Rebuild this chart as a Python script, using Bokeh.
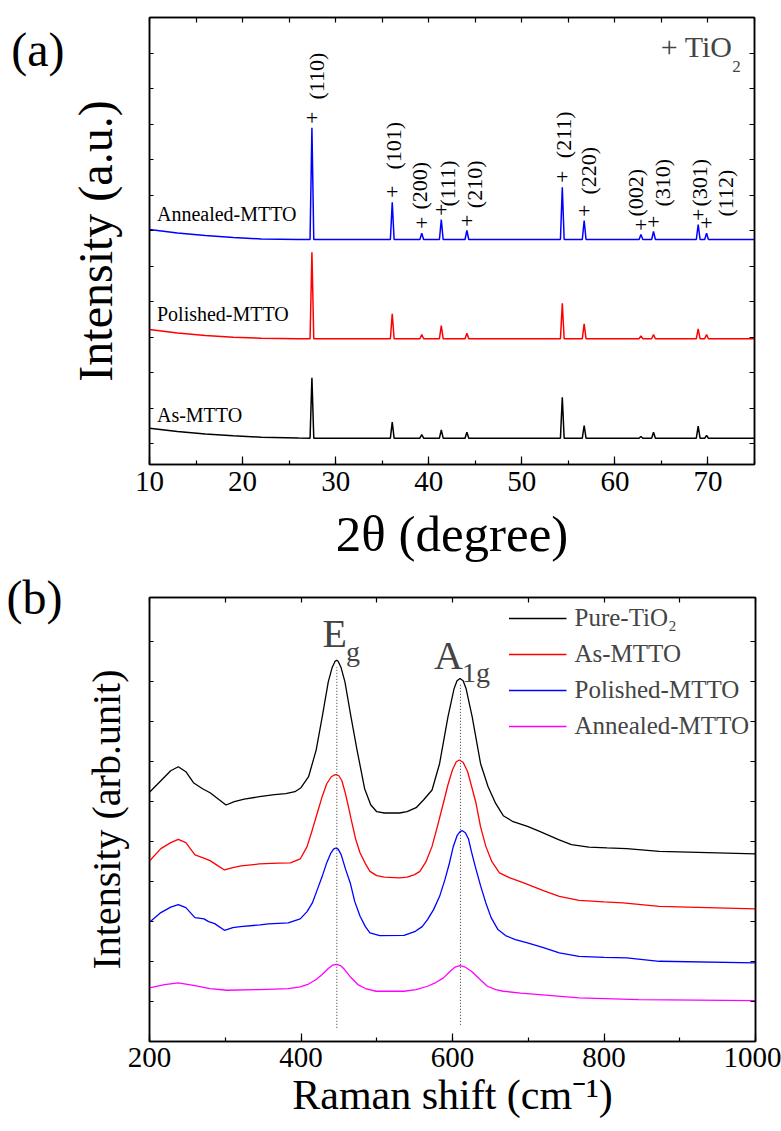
import numpy as np
from bokeh.plotting import figure
from bokeh.models import (Range1d, LinearAxis, FixedTicker, SingleIntervalTicker,
                          CustomJSTickFormatter, Label, ColumnDataSource, Legend, LegendItem)
from bokeh.layouts import column
from bokeh.embed import file_html
from bokeh.resources import INLINE
from bokeh.core.properties import value

FONT = "Liberation Serif"

# ---------------- (a) XRD data ----------------
peak_hkl = ["(110)", "(101)", "(200)", "(111)", "(210)", "(211)", "(220)", "(002)", "(310)", "(301)", "(112)"]
peak_theta = [27.45, 36.08, 39.25, 41.35, 44.1, 54.35, 56.7, 62.8, 64.15, 68.95, 69.85]
base_theta = [10, 13, 16, 19, 22, 26, 75]
annealed_base = [2350, 2315, 2290, 2270, 2255, 2250, 2250]
polished_base = [1350, 1315, 1290, 1272, 1262, 1258, 1258]
as_base = [363, 330, 305, 287, 273, 265, 263]
annealed_peak = [3367, 2623, 2313, 2450, 2340, 2773, 2440, 2300, 2330, 2400, 2313]
polished_peak = [2123, 1507, 1300, 1390, 1313, 1613, 1407, 1287, 1300, 1357, 1300]
as_peak = [867, 423, 300, 347, 323, 673, 390, 280, 323, 383, 290]
hkl_label_x = [27.9, 36.2, 39.0, 42.0, 44.9, 54.5, 57.2, 62.2, 65.1, 69.1, 71.9]
hkl_label_y = [3650, 2950, 2550, 2580, 2563, 3063, 2700, 2480, 2580, 2580, 2480]
xrd_names = ["Annealed-MTTO", "Polished-MTTO", "As-MTTO"]
xrd_colors = ["#0000ff", "#ff0000", "#000000"]
xrd_name_x = [10.8, 10.8, 10.8]
xrd_name_y = [2510, 1510, 493]
xrd_yticks = [210, 565, 920, 1275, 1630, 1985, 2340, 2695, 3050, 3405, 3760, 4115]

# ---------------- (b) Raman data ----------------
pure_x = [200, 215, 228, 238, 248, 258, 270, 280, 292, 301, 312, 325, 345, 365, 380, 392, 400, 410,
          420, 428, 436, 441, 445, 447, 449, 453, 458, 466, 474, 484, 492, 500, 510, 530, 540, 552, 562, 573,
          583, 594, 602, 606, 610, 614, 618, 626, 637, 647, 657, 667, 680, 699, 715, 740, 757, 780, 804, 830, 873, 1000]
pure_y = [2494, 2610, 2710, 2750, 2700, 2590, 2530, 2490, 2420, 2367, 2400, 2425, 2450, 2470, 2480, 2500, 2540, 2650,
          2917, 3250, 3600, 3740, 3805, 3817, 3805, 3740, 3600, 3250, 2917, 2530, 2370, 2300, 2287, 2287, 2300, 2340, 2420, 2517,
          2783, 3250, 3530, 3610, 3633, 3610, 3530, 3250, 2783, 2550, 2383, 2260, 2200, 2153, 2103, 2020, 1970, 1945, 1937, 1930, 1903, 1877]
as_x = [200, 215, 228, 238, 248, 260, 270, 280, 290, 299, 310, 321, 345, 370, 386, 399, 408, 415, 422, 428,
        434, 440, 444, 447, 450, 454, 458, 462, 466, 472, 478, 485, 491, 500, 510, 530, 540, 550, 557, 565, 573, 580,
        588, 594, 600, 605, 609, 614, 620, 625, 631, 637, 644, 652, 662, 675, 694, 720, 741, 767, 800, 825, 873, 1000]
as_y = [1807, 1930, 1990, 2023, 1990, 1867, 1840, 1810, 1760, 1717, 1740, 1757, 1777, 1785, 1787, 1827, 1950, 2120, 2300, 2453,
        2580, 2650, 2668, 2670, 2660, 2610, 2500, 2370, 2230, 2030, 1887, 1780, 1703, 1660, 1645, 1637, 1645, 1670, 1703, 1800, 1953, 2150,
        2387, 2570, 2720, 2800, 2817, 2795, 2700, 2560, 2387, 2150, 1953, 1800, 1687, 1640, 1587, 1510, 1453, 1413, 1397, 1387, 1353, 1327]
pol_x = [200, 215, 228, 238, 248, 260, 272, 278, 286, 299, 310, 320, 346, 357, 383, 399, 408, 415, 422, 428,
         434, 439, 443, 446, 449, 453, 459, 465, 471, 478, 485, 491, 504, 536, 551, 560, 567, 575, 583, 590, 596,
         601, 606, 610, 613, 617, 621, 625, 630, 637, 644, 651, 660, 670, 683, 699, 720, 741, 767, 800, 830, 873, 1000]
pol_y = [1193, 1290, 1345, 1370, 1340, 1240, 1227, 1200, 1180, 1113, 1140, 1150, 1167, 1177, 1187, 1227, 1300, 1387, 1530, 1653,
         1790, 1880, 1925, 1937, 1925, 1870, 1720, 1587, 1400, 1253, 1150, 1087, 1060, 1063, 1103, 1150, 1220, 1320, 1453, 1620, 1787,
         1950, 2060, 2100, 2110, 2090, 2030, 1900, 1753, 1560, 1387, 1240, 1120, 1060, 1020, 987, 940, 887, 853, 843, 837, 803, 787]
ann_x = [200, 220, 238, 260, 280, 302, 346, 383, 399, 410, 420, 428, 436, 442, 447, 452, 457, 466, 475, 485, 499,
         536, 552, 567, 578, 588, 598, 604, 610, 616, 625, 635, 646, 657, 667, 690, 715, 767, 846, 1000]
ann_y = [537, 570, 587, 560, 530, 513, 520, 530, 547, 575, 620, 670, 730, 765, 772, 760, 725, 640, 570, 530, 503,
         503, 520, 553, 590, 637, 710, 748, 760, 748, 703, 630, 553, 520, 503, 485, 470, 437, 420, 410]
raman_names = ["Pure-TiO\u2082", "As-MTTO", "Polished-MTTO", "Annealed-MTTO"]
raman_colors = ["#000000", "#ff0000", "#0000ff", "#ff00ff"]
mode_pos = [447.3, 610.5]
mode_top = [3747, 3587]
mode_bottom = [137, 167]
raman_yticks = [400, 800, 1200, 1600, 2000, 2400, 2800, 3200, 3600, 4000]

EMPTY = "return ''"


def style_axis(ax, tick_in, minor_in=0):
    ax.major_tick_in = tick_in
    ax.major_tick_out = 0
    ax.minor_tick_in = minor_in
    ax.minor_tick_out = 0
    ax.axis_line_color = "black"
    ax.axis_line_width = 1.5
    ax.major_tick_line_width = 1.2
    ax.minor_tick_line_width = 1.2
    ax.major_label_text_font = FONT
    ax.axis_label_text_font = FONT
    ax.axis_label_text_font_style = "normal"
    ax.axis_label_text_color = "black"
    ax.major_label_text_color = "black"


def blank_axis(ticker):
    ax = LinearAxis(ticker=ticker, formatter=CustomJSTickFormatter(code=EMPTY))
    style_axis(ax, 5)
    ax.major_label_standoff = 0
    ax.major_label_text_font_size = "1px"
    return ax


def panel_tag(p, text, standoff, fallback_x, fallback_y):
    ax = LinearAxis(ticker=FixedTicker(ticks=[]), formatter=CustomJSTickFormatter(code=EMPTY))
    ax.axis_line_color = None
    ax.major_tick_line_color = None
    ax.minor_tick_line_color = None
    ax.major_label_standoff = 0
    ax.major_label_text_font_size = "1px"
    ax.axis_label = text
    ax.axis_label_text_font = FONT
    ax.axis_label_text_font_style = "normal"
    ax.axis_label_text_font_size = "48px"
    ax.axis_label_text_color = "black"
    ax.axis_label_standoff = standoff
    try:
        ax.axis_label_orientation = "horizontal"
        ax.axis_label_align = "end"
        p.add_layout(ax, "left")
    except Exception:
        p.add_layout(Label(x=fallback_x, y=fallback_y, text=text.strip(), text_font=FONT, text_font_size="48px",
                           text_baseline="middle", text_align="left"))


# ================= panel (a) =================
p1 = figure(frame_width=605, frame_height=447, x_range=Range1d(10, 75), y_range=Range1d(0, 4470),
            output_backend="svg", toolbar_location=None,
            min_border_left=149, min_border_right=27, min_border_top=17, min_border_bottom=103)
p1.grid.visible = False
p1.outline_line_color = "black"
p1.outline_line_width = 1.5

xa = p1.xaxis[0]
xa.ticker = SingleIntervalTicker(interval=10, num_minor_ticks=2)
style_axis(xa, 8, 4)
xa.major_label_text_font_size = "29px"
xa.major_label_standoff = 7
xa.axis_label = "2θ (degree)"
xa.axis_label_text_font_size = "51px"
xa.axis_label_standoff = 12

ya = p1.yaxis[0]
ya.ticker = FixedTicker(ticks=xrd_yticks)
ya.formatter = CustomJSTickFormatter(code=EMPTY)
style_axis(ya, 4)
ya.major_label_standoff = 0
ya.major_label_text_font_size = "1px"
ya.axis_label = "Intensity (a.u.)"
ya.axis_label_text_font_size = "48px"
ya.axis_label_standoff = 28

p1.add_layout(blank_axis(SingleIntervalTicker(interval=5, num_minor_ticks=0)), "above")
p1.add_layout(blank_axis(FixedTicker(ticks=xrd_yticks)), "right")
panel_tag(p1, "\n(a)", 1, -5.0, 4200)

bases = [annealed_base, polished_base, as_base]
peaks = [annealed_peak, polished_peak, as_peak]
for base, pk, color in zip(bases, peaks, xrd_colors):
    xs = list(base_theta[:-1])
    ys = list(base[:-1])
    flat = base[-1]
    for pos, top in zip(peak_theta, pk):
        xs += [pos - 0.2, pos, pos + 0.2]
        ys += [flat, top, flat]
    xs.append(base_theta[-1])
    ys.append(flat)
    p1.line(xs, ys, line_color=color, line_width=1.5)

# "+" markers above the annealed peaks
plus_src = ColumnDataSource(dict(x=peak_theta, y=annealed_peak, t=["+"] * len(peak_theta)))
p1.text(x="x", y="y", text="t", source=plus_src, text_font=value(FONT), text_font_size="22px",
        text_align="center", text_baseline="middle", y_offset=-10, text_color="black")
hkl_src = ColumnDataSource(dict(x=hkl_label_x, y=hkl_label_y, t=peak_hkl))
p1.text(x="x", y="y", text="t", source=hkl_src, text_font=value(FONT), text_font_size="22px",
        angle=np.pi / 2, text_align="left", text_baseline="middle", text_color="black")
name_src = ColumnDataSource(dict(x=xrd_name_x, y=xrd_name_y, t=xrd_names))
p1.text(x="x", y="y", text="t", source=name_src, text_font=value(FONT), text_font_size="20px",
        text_align="left", text_baseline="alphabetic", text_color="black")

p1.add_layout(Label(x=64.93, y=4183, text="+ TiO", text_font=FONT, text_font_size="30px",
                    text_baseline="alphabetic", text_align="left"))
p1.add_layout(Label(x=72.62, y=3983, text="2", text_font=FONT, text_font_size="17px",
                    text_baseline="alphabetic", text_align="left"))

# ================= panel (b) =================
p2 = figure(frame_width=606, frame_height=444, x_range=Range1d(200, 1000), y_range=Range1d(0, 4444),
            output_backend="svg", toolbar_location=None,
            min_border_left=148, min_border_right=27, min_border_top=30, min_border_bottom=90)
p2.grid.visible = False
p2.outline_line_color = "black"
p2.outline_line_width = 1.5

xb = p2.xaxis[0]
xb.ticker = SingleIntervalTicker(interval=200, num_minor_ticks=2)
style_axis(xb, 8, 4)
xb.major_label_text_font_size = "29px"
xb.major_label_standoff = 6
xb.axis_label = "Raman shift (cm\u207b\u00b9)"
xb.axis_label_text_font_size = "42px"
xb.axis_label_standoff = 2

yb = p2.yaxis[0]
yb.ticker = FixedTicker(ticks=raman_yticks)
yb.formatter = CustomJSTickFormatter(code=EMPTY)
style_axis(yb, 4)
yb.major_label_standoff = 0
yb.major_label_text_font_size = "1px"
yb.axis_label = "Intensity (arb.unit)"
yb.axis_label_text_font_size = "40px"
yb.axis_label_standoff = 21

p2.add_layout(blank_axis(SingleIntervalTicker(interval=100, num_minor_ticks=0)), "above")
p2.add_layout(blank_axis(FixedTicker(ticks=raman_yticks)), "right")
panel_tag(p2, "(b)", 18, 16, 4300)

for pos, top, bot in zip(mode_pos, mode_top, mode_bottom):
    p2.line([pos, pos], [bot, top], line_color="#333333", line_width=1, line_dash="1 2")

items = []
for name, color, xs, ys in zip(raman_names, raman_colors, [pure_x, as_x, pol_x, ann_x], [pure_y, as_y, pol_y, ann_y]):
    r = p2.line(xs, ys, line_color=color, line_width=1.3)
    items.append(LegendItem(label=name, renderers=[r]))

legend = Legend(items=items, location="top_right", label_text_font=FONT, label_text_font_size="25px",
                glyph_width=58, glyph_height=30, label_height=30, label_standoff=8, spacing=6,
                padding=0, margin=6, border_line_color=None, background_fill_alpha=0)
p2.add_layout(legend)

p2.add_layout(Label(x=428.3, y=4084, text="E", text_font=FONT, text_font_size="40px",
                    text_baseline="alphabetic", text_align="left"))
p2.add_layout(Label(x=459.4, y=3907, text="g", text_font=FONT, text_font_size="28px",
                    text_baseline="alphabetic", text_align="left"))
p2.add_layout(Label(x=575.6, y=3867, text="A", text_font=FONT, text_font_size="40px",
                    text_baseline="alphabetic", text_align="left"))
p2.add_layout(Label(x=612.5, y=3697, text="1g", text_font=FONT, text_font_size="28px",
                    text_baseline="alphabetic", text_align="left"))

layout = column(p1, p2, spacing=0)
open("out.html", "w").write(file_html(layout, INLINE))
